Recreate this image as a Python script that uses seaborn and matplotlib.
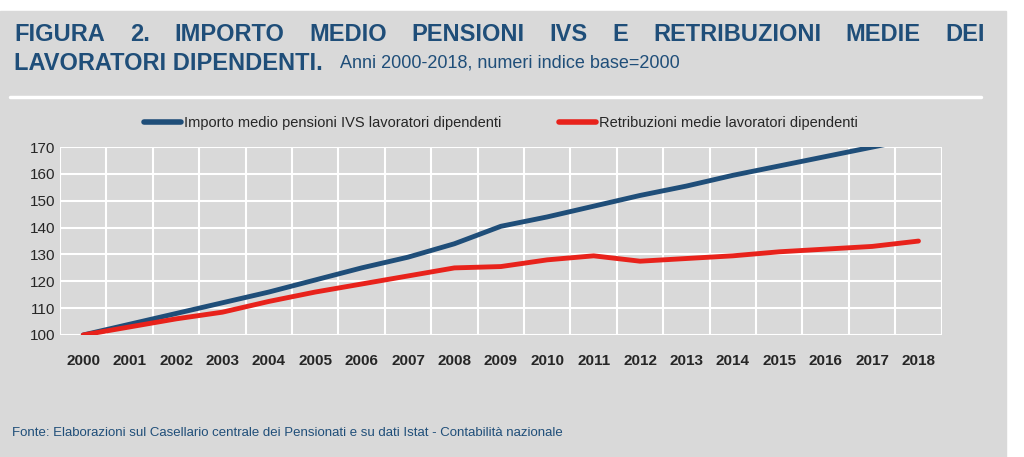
import numpy as np
import pandas as pd
import matplotlib
matplotlib.use("Agg")
import matplotlib.pyplot as plt
import seaborn as sns

years = list(range(2000, 2019))
pensioni = [100, 104, 108, 112, 116, 120.5, 125, 129, 134, 140.5, 144, 148,
            152, 155.5, 159.5, 163, 166.5, 170, 173.5]
retribuzioni = [100, 103, 106, 108.5, 112.5, 116, 119, 122, 125, 125.5, 128,
                129.5, 127.5, 128.5, 129.5, 131, 132, 133, 135]
labels = ["Importo medio pensioni IVS lavoratori dipendenti",
          "Retribuzioni medie lavoratori dipendenti"]

sns.set_style("white")
plt.rcParams["font.family"] = ["Liberation Sans Narrow", "Liberation Sans", "DejaVu Sans"]

bg = "#d9d9d9"
blue = "#1f4e79"
fig = plt.figure(figsize=(10.24, 4.57), dpi=100)
fig.patch.set_facecolor("white")
fig.patches.append(plt.Rectangle((0, 0), 0.982, 0.975, transform=fig.transFigure,
                                 color=bg, zorder=-10))

ax = fig.add_axes([0.0586, 0.267, 0.861, 0.411])
ax.set_facecolor(bg)

df = pd.DataFrame({"idx": list(range(len(years))) * 2,
                   "value": pensioni + retribuzioni,
                   "serie": [labels[0]] * len(years) + [labels[1]] * len(years)})
sns.lineplot(data=df, x="idx", y="value", hue="serie", ax=ax,
             palette=[blue, "#e8221b"], linewidth=3.5)

ax.set_xlim(-0.5, len(years) - 0.5)
ax.set_ylim(100, 170)
ax.set_yticks(range(100, 171, 10))
ax.set_xticks(range(len(years)))
ax.set_xticklabels([str(y) for y in years], fontweight="bold")
ax.set_xticks(np.arange(-0.5, len(years), 1), minor=True)
ax.tick_params(axis="x", which="major", length=0, pad=14, labelsize=11)
ax.tick_params(axis="x", which="minor", length=6, color="white", width=1.5)
ax.tick_params(axis="y", length=0, labelsize=11)
ax.grid(True, which="minor", axis="x", color="white", linewidth=1.5)
ax.grid(True, which="major", axis="y", color="white", linewidth=1.5)
ax.set_xlabel("")
ax.set_ylabel("")
for s in ax.spines.values():
    s.set_visible(False)

leg = ax.legend(loc="lower center", bbox_to_anchor=(0.5, 1.02), ncol=2,
                frameon=False, fontsize=10.5, handlelength=2.5, columnspacing=4,
                handletextpad=0.2)
for line in leg.get_lines():
    line.set_linewidth(4)

# prima riga del titolo giustificata su tutta la larghezza
words = "FIGURA 2. IMPORTO MEDIO PENSIONI IVS E RETRIBUZIONI MEDIE DEI".split()
fig.canvas.draw()
r = fig.canvas.get_renderer()
tmp = [fig.text(0, 0, w, fontsize=17, fontweight="bold") for w in words]
widths = [t.get_window_extent(r).width / fig.bbox.width for t in tmp]
for t in tmp:
    t.remove()
x0, x1 = 0.014, 0.962
gap = (x1 - x0 - sum(widths)) / (len(words) - 1)
x = x0
for w, wd in zip(words, widths):
    fig.text(x, 0.925, w, color=blue, fontsize=17, fontweight="bold",
             ha="left", va="center")
    x += wd + gap

fig.text(0.014, 0.862, "LAVORATORI DIPENDENTI.", color=blue, fontsize=17,
         fontweight="bold", ha="left", va="center")
fig.text(0.332, 0.862, "Anni 2000-2018, numeri indice base=2000", color=blue,
         fontsize=13, ha="left", va="center")
fig.lines.append(plt.Line2D([0.01, 0.958], [0.787, 0.787], transform=fig.transFigure,
                            color="white", linewidth=2.5))
fig.text(0.012, 0.052, "Fonte: Elaborazioni sul Casellario centrale dei Pensionati e su dati Istat - Contabilità nazionale",
         color=blue, fontsize=9.5, ha="left", va="center")

fig.savefig("out.png", dpi=100)
